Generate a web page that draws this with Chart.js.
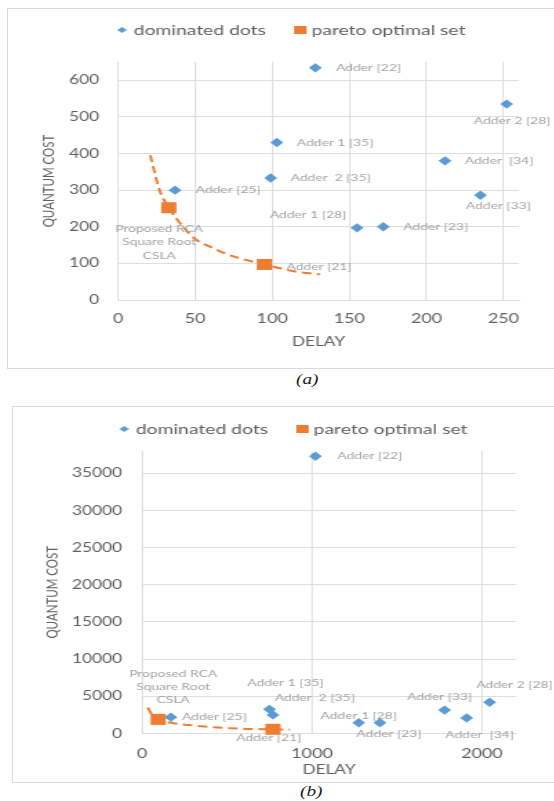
<!DOCTYPE html>
<html>
<head>
<meta charset="utf-8">
<script src="https://cdn.jsdelivr.net/npm/chart.js@4.4.1/dist/chart.umd.min.js"></script>
<style>
  html, body { margin: 0; padding: 0; background: #fff; width: 554px; height: 801px; overflow: hidden; }
  .frame { position: absolute; border: 1px solid #d9d9d9; box-sizing: border-box; }
  canvas { position: absolute; }
  .caption { position: absolute; font: italic 14px "Liberation Serif", serif; color: #1a1a1a; transform: scaleX(1.38); transform-origin: 0 0; }
</style>
</head>
<body>
<div class="frame" style="left:7px;top:8px;width:580px;height:361px"></div>
<canvas id="chartA" width="400" height="360" style="left:7px;top:8px;width:552px;height:360px"></canvas>
<div class="caption" style="left:296px;top:372px">(a)</div>

<div class="frame" style="left:12px;top:406px;width:580px;height:377px"></div>
<canvas id="chartB" width="400" height="376" style="left:12px;top:406px;width:552px;height:376px"></canvas>
<div class="caption" style="left:300px;top:784px">(b)</div>

<script>
// point names, same order in both panels
const dominatedNames = ['Adder [22]', 'Adder 2 [28]', 'Adder 1 [35]', 'Adder  [34]', 'Adder  2 [35]',
  'Adder [25]', 'Adder [33]', 'Adder 1 [28]', 'Adder [23]'];
const paretoNames = [['Proposed RCA', 'Square Root', 'CSLA'], 'Adder [21]'];

// panel (a)
const delayA = [128, 252, 103, 212, 99, 37, 235, 155, 172];
const costA = [634, 535, 430, 380, 333, 300, 286, 197, 200];
const paretoDelayA = [33, 95];
const paretoCostA = [252, 97];
const trendDelayA = [21, 27, 33, 43, 51, 60, 70, 79, 87, 95, 106, 116, 131];
const trendCostA = [395, 300, 252, 196, 164, 145, 126, 114, 105, 97, 86, 77, 70];
const delayTicksA = [0, 50, 100, 150, 200, 250];
const costTicksA = [0, 100, 200, 300, 400, 500, 600];

// panel (b)
const delayB = [1020, 2045, 750, 1910, 770, 170, 1780, 1275, 1400];
const costB = [37300, 4200, 3250, 2100, 2500, 2200, 3150, 1450, 1450];
const paretoDelayB = [95, 770];
const paretoCostB = [1900, 570];
const trendDelayB = [33, 60, 95, 180, 280, 390, 500, 620, 770, 870];
const trendCostB = [3500, 2500, 1900, 1400, 1130, 900, 730, 620, 570, 520];
const delayTicksB = [0, 1000, 2000];
const costTicksB = [0, 5000, 10000, 15000, 20000, 25000, 30000, 35000];

// label offsets from each point, canvas units: [dx, dy, align]
const labelPosA = {
  dominated: [[15, 0, 'left'], [4, 17, 'center'], [14.5, 0, 'left'], [14.5, 0, 'left'], [14.5, 0, 'left'],
    [15, 0, 'left'], [13, 11, 'center'], [-35.5, -13, 'center'], [14.5, 0, 'left']],
  pareto: [[-7, 21, 'center'], [16, 2, 'left']],
  lineGap: 13.5
};
const labelPosB = {
  dominated: [[16, 0, 'left'], [18, -17, 'center'], [11.6, -27, 'center'], [9.4, 17, 'center'], [30.4, -17, 'center'],
    [8, 0, 'left'], [-3.6, -13, 'center'], [0, -7, 'center'], [6.5, 11, 'center']],
  pareto: [[10.9, -46, 'center'], [-3, 9, 'center']],
  lineGap: 13
};

const BLUE = '#5B9BD5';
const ORANGE = '#ED7D31';
const GRID = '#dedede';
const TICK = '#606060';

function icon(w, h, color, diamond) {
  const c = document.createElement('canvas');
  c.width = w; c.height = h;
  const g = c.getContext('2d');
  g.fillStyle = color;
  if (diamond) {
    g.beginPath();
    g.moveTo(w / 2, 0); g.lineTo(w, h / 2); g.lineTo(w / 2, h); g.lineTo(0, h / 2);
    g.closePath(); g.fill();
  } else {
    g.fillRect(0, 0, w, h);
  }
  return c;
}
const legendIcons = [icon(7, 6, BLUE, true), icon(9, 8, ORANGE, false)];

const pairs = (xs, ys) => xs.map((x, i) => ({ x, y: ys[i] }));

// data labels next to the markers
const pointLabels = {
  id: 'pointLabels',
  afterDatasetsDraw(chart, args, opts) {
    const ctx = chart.ctx;
    ctx.save();
    ctx.font = '10px Lato';
    ctx.fillStyle = '#a3a3a3';
    ctx.textBaseline = 'middle';
    [opts.dominated, opts.pareto].forEach((pos, di) => {
      const names = di === 0 ? dominatedNames : paretoNames;
      chart.getDatasetMeta(di).data.forEach((pt, i) => {
        const [dx, dy, align] = pos[i];
        ctx.textAlign = align;
        [].concat(names[i]).forEach((line, k) => ctx.fillText(line, pt.x + dx, pt.y + dy + k * opts.lineGap));
      });
    });
    ctx.restore();
  }
};

// fixed legend height and position
const legendPlace = {
  id: 'legendPlace',
  beforeLayout(chart, args, opts) {
    const lg = chart.legend;
    if (lg && !lg._fixedFit) {
      const fit = lg.fit;
      lg.fit = function () { fit.call(this); this.height = opts.height; };
      lg._fixedFit = true;
    }
  },
  afterLayout(chart, args, opts) {
    const lg = chart.legend;
    const pad = lg.options.labels.padding;
    const start = (lg.left + pad + lg.right - lg.lineWidths[0]) / 2;
    const dx = opts.x - start;
    lg.left += dx;
    lg.right += dx;
    lg.top = opts.y - pad - 7;
    lg.bottom = lg.top + lg.height;
  }
};

function makeChart(id, D, L) {
  return new Chart(document.getElementById(id), {
    type: 'scatter',
    data: {
      datasets: [{
        label: 'dominated dots',
        data: pairs(D.delay, D.cost),
        pointStyle: 'rectRot',
        pointRadius: 4.7,
        backgroundColor: BLUE,
        borderColor: BLUE,
        borderWidth: 0,
        clip: false
      }, {
        label: 'pareto optimal set',
        data: pairs(D.paretoDelay, D.paretoCost),
        pointStyle: 'rect',
        pointRadius: 7.8,
        backgroundColor: ORANGE,
        borderColor: ORANGE,
        borderWidth: 0,
        clip: false
      }, {
        label: 'trend',
        data: pairs(D.trendDelay, D.trendCost),
        showLine: true,
        pointRadius: 0,
        borderColor: ORANGE,
        borderWidth: 2,
        borderDash: [7, 4],
        cubicInterpolationMode: 'monotone',
        fill: false
      }]
    },
    options: {
      responsive: false,
      devicePixelRatio: 1,
      animation: false,
      events: [],
      layout: { padding: { left: 20, right: L.padRight, top: 0, bottom: 0 } },
      scales: {
        x: {
          type: 'linear',
          min: 0,
          max: L.xMax,
          afterBuildTicks: s => { s.ticks = D.xTicks.map(v => ({ value: v })); },
          afterFit: s => { s.height = L.xAxisHeight; },
          grid: { color: GRID, drawTicks: false },
          border: { color: GRID },
          ticks: { padding: L.xTickPad, color: TICK, autoSkip: false, maxRotation: 0,
            font: { family: 'Lato', size: 13 }, callback: v => String(v) },
          title: { display: true, text: 'DELAY', color: TICK, font: { family: 'Lato', size: 12.5 },
            padding: { top: 0, bottom: L.xTitlePad } }
        },
        y: {
          type: 'linear',
          min: 0,
          max: L.yMax,
          afterBuildTicks: s => { s.ticks = D.yTicks.map(v => ({ value: v })); },
          afterFit: s => { s.width = L.yAxisWidth; },
          grid: { color: GRID, drawTicks: false },
          border: { color: GRID },
          ticks: { padding: L.yTickPad, color: TICK, autoSkip: false,
            font: { family: 'Lato', size: 12.5 }, callback: v => String(v) },
          title: { display: true, text: 'QUANTUM COST', color: TICK, font: { family: 'Lato', size: 11.5 },
            padding: { top: L.yTitlePad, bottom: 0 } }
        }
      },
      plugins: {
        legend: {
          position: 'top',
          labels: {
            usePointStyle: true,
            pointStyleWidth: 3,
            padding: 23,
            color: TICK,
            font: { family: 'Lato', size: 14 },
            filter: item => item.datasetIndex < 2,
            generateLabels: chart => Chart.defaults.plugins.legend.labels.generateLabels(chart)
              .map(item => ({ ...item, pointStyle: legendIcons[item.datasetIndex] }))
          }
        },
        tooltip: { enabled: false },
        pointLabels: D.labelPos,
        legendPlace: { height: L.legendHeight, x: L.legendX, y: L.legendY }
      }
    },
    plugins: [pointLabels, legendPlace]
  });
}

makeChart('chartA', {
  delay: delayA, cost: costA,
  paretoDelay: paretoDelayA, paretoCost: paretoCostA,
  trendDelay: trendDelayA, trendCost: trendCostA,
  xTicks: delayTicksA, yTicks: costTicksA,
  labelPos: labelPosA
}, {
  padRight: 29, xMax: 260, yMax: 650,
  xAxisHeight: 68, yAxisWidth: 60.4,
  xTickPad: 11.5, yTickPad: 13.7, xTitlePad: 18.5, yTitlePad: 3.5,
  legendHeight: 54, legendX: 81.8, legendY: 22
});

makeChart('chartB', {
  delay: delayB, cost: costB,
  paretoDelay: paretoDelayB, paretoCost: paretoCostB,
  trendDelay: trendDelayB, trendCost: trendCostB,
  xTicks: delayTicksB, yTicks: costTicksB,
  labelPos: labelPosB
}, {
  padRight: 34.8, xMax: 2200, yMax: 38000,
  xAxisHeight: 48.5, yAxisWidth: 74.2,
  xTickPad: 12.7, yTickPad: 14.5, xTitlePad: 4.5, yTitlePad: 2.4,
  legendHeight: 45, legendX: 79.7, legendY: 23
});
</script>
</body>
</html>
